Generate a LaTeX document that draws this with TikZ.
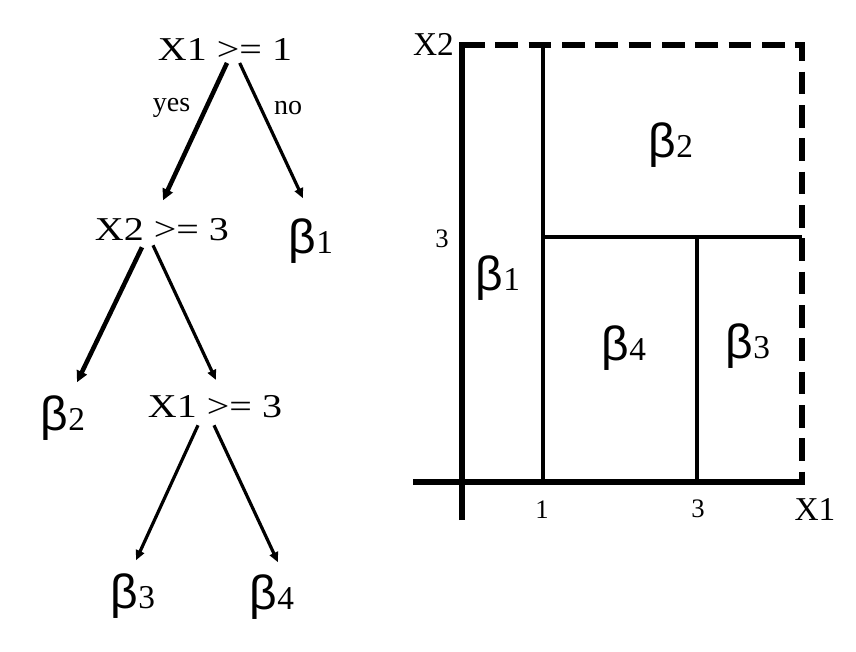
\documentclass[tikz,border=0pt]{standalone}
\usepackage{fontspec}
\usepackage{graphicx}
\setmainfont{Liberation Serif}
\newfontfamily\betafont{Liberation Sans}
\usetikzlibrary{arrows.meta}
\newcommand{\cond}[1]{\scalebox{1.2}[1]{#1}}
\newcommand{\bt}[1]{{\fontsize{36}{36}\selectfont\betafont β}{\fontsize{25}{25}\selectfont #1}}

\begin{document}
\begin{tikzpicture}[x=0.75pt,y=-0.75pt,
    cond/.style={font=\fontsize{25}{25}\selectfont,inner sep=2pt,anchor=base},
    leaf/.style={inner sep=2pt,anchor=base},
    lbl/.style={font=\fontsize{21}{21}\selectfont,inner sep=0pt},
    tick/.style={font=\fontsize{20}{20}\selectfont,inner sep=0pt,anchor=base},
    arr/.style={-{Triangle[length=7.5pt,width=6.5pt]},line width=2.4pt},
    thickarr/.style={-{Triangle[length=8.5pt,width=8pt]},line width=3.4pt},
    axis/.style={line width=4.5pt},
    cut/.style={line width=3pt}]
  \useasboundingbox (0,0) rectangle (856,651);
  % tree
  \node[cond] (r) at (225,60) {\cond{X1 >= 1}};
  \node[cond] (c2) at (162,240) {\cond{X2 >= 3}};
  \node[cond] (c3) at (215,417) {\cond{X1 >= 3}};
  \node[leaf] (l1) at (311,253) {\bt{1}};
  \node[leaf] (l2) at (63,430) {\bt{2}};
  \node[leaf] (l3) at (133,608) {\bt{3}};
  \node[leaf] (l4) at (272,609) {\bt{4}};
  \draw[thickarr] ([xshift=1.5pt]r.south)
    -- node[lbl,pos=0.33,left=10pt] {yes} ([xshift=0.75pt,yshift=11pt]c2.north);
  \draw[arr] ([xshift=11pt]r.south)
    -- node[lbl,pos=0.33,right=9pt] {no} ([xshift=-6pt,yshift=12.75pt]l1.north);
  \draw[thickarr] ([xshift=-15pt,yshift=-3pt]c2.south)
    -- ([xshift=10.5pt,yshift=7.5pt]l2.north);
  \draw[arr] ([xshift=-6.75pt,yshift=-1.5pt]c2.south)
    -- ([xshift=0.75pt,yshift=9pt]c3.north);
  \draw[arr] ([xshift=-12.75pt,yshift=-3.75pt]c3.south)
    -- ([xshift=2.25pt,yshift=7.5pt]l3.north);
  \draw[arr] ([xshift=-0.75pt,yshift=-3.75pt]c3.south)
    -- ([xshift=4.5pt,yshift=6.75pt]l4.north);
  % partition of the (x1,x2) plane
  \draw[axis] (462,520) -- (462,42);
  \draw[axis] (413,482) -- (805,482);
  \draw[axis,dash pattern=on 17pt off 8pt] (462,45) -- (802,45) -- (802,482);
  \draw[cut] (543,45) -- (543,482);
  \draw[cut] (543,237) -- (802,237);
  \draw[cut] (697,237) -- (697,482);
  \node[cond,anchor=base east,inner sep=0pt] (ax2) at (454,55) {X2};
  \node[cond,inner sep=0pt] (ax1) at (815,520) {X1};
  \node[tick] (t3y) at (442,247) {3};
  \node[tick] (t1x) at (542,518) {1};
  \node[tick] (t3x) at (698,517) {3};
  \node[leaf] (r2) at (671,157) {\bt{2}};
  \node[leaf] (r1) at (498,290) {\bt{1}};
  \node[leaf] (r4) at (624,360) {\bt{4}};
  \node[leaf] (r3) at (748,358) {\bt{3}};
\end{tikzpicture}
\end{document}
